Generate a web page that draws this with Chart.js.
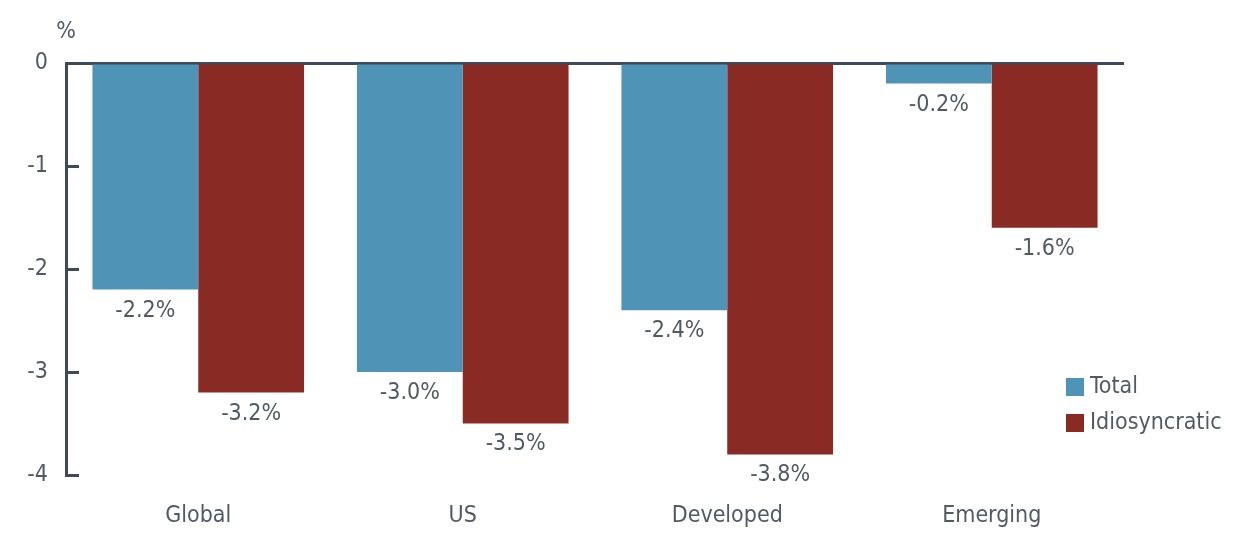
<!DOCTYPE html>
<html>
<head>
<meta charset="utf-8">
<script src="https://cdn.jsdelivr.net/npm/chart.js@4/dist/chart.umd.min.js"></script>
<style>
  html, body { margin: 0; padding: 0; background: #fff; }
  #wrap { width: 1236px; height: 543px; position: relative; }
</style>
</head>
<body>
<div id="wrap"><canvas id="chart"></canvas></div>
<script>
// ─── Data ────────────────────────────────────────────────────────
const categories = ['Global', 'US', 'Developed', 'Emerging'];
const totalVals = [-2.2, -3.0, -2.4, -0.2];
const idioVals  = [-3.2, -3.5, -3.8, -1.6];
const seriesNames = ['Total', 'Idiosyncratic'];
const yTicks = [0, -1, -2, -3, -4];

const BLUE = '#4f93b7';
const RED = '#892a24';
const AXIS = '#3d4a57';
const TEXT = '#505a65';
const FONT = "'Liberation Sans Narrow', 'DejaVu Sans Condensed', 'Open Sans', sans-serif";

// ─── Plugins ─────────────────────────────────────────────────────
const decor = {
  id: 'decor',
  afterDraw(chart) {
    const { ctx, scales: { y }, chartArea } = chart;
    ctx.save();
    // inward tick marks
    ctx.strokeStyle = AXIS;
    ctx.lineWidth = 3;
    yTicks.forEach(v => {
      if (v === 0) return;
      const py = Math.round(y.getPixelForValue(v)) + 0.5;
      ctx.beginPath();
      ctx.moveTo(chartArea.left, py);
      ctx.lineTo(chartArea.left + 13, py);
      ctx.stroke();
    });
    // unit label
    ctx.fillStyle = TEXT;
    ctx.font = `23px ${FONT}`;
    ctx.textAlign = 'center';
    ctx.textBaseline = 'middle';
    ctx.fillText('%', chartArea.left, 32);

    // value labels
    chart.data.datasets.forEach((ds, di) => {
      chart.getDatasetMeta(di).data.forEach((bar, i) => {
        ctx.fillText(ds.data[i].toFixed(1) + '%', bar.x, bar.y + 21);
      });
    });

    // legend
    const lx = 1066, ly = [387, 423];
    chart.data.datasets.forEach((ds, di) => {
      ctx.fillStyle = ds.backgroundColor;
      ctx.fillRect(lx, ly[di] - 9, 18, 18);
      ctx.fillStyle = TEXT;
      ctx.textAlign = 'left';
      ctx.fillText(ds.label, lx + 24, ly[di]);
    });
    ctx.restore();
  }
};

// ─── Chart ───────────────────────────────────────────────────────
new Chart(document.getElementById('chart'), {
  type: 'bar',
  data: {
    labels: categories,
    datasets: [
      { label: seriesNames[0], data: totalVals, backgroundColor: BLUE, borderWidth: 0 },
      { label: seriesNames[1], data: idioVals,  backgroundColor: RED,  borderWidth: 0 }
    ]
  },
  options: {
    responsive: true,
    maintainAspectRatio: false,
    animation: false,
    layout: { padding: { left: 0, right: 112, top: 63, bottom: 0 } },
    plugins: { legend: { display: false }, tooltip: { enabled: false } },
    datasets: { bar: { categoryPercentage: 0.8, barPercentage: 1.0 } },
    scales: {
      x: {
        grid: { display: false, drawTicks: false },
        border: { display: false },
        ticks: { color: TEXT, font: { family: FONT, size: 23 }, padding: 27 },
        afterFit: s => { s.height = 68; }
      },
      y: {
        min: -4, max: 0,
        z: 1,
        afterBuildTicks: s => { s.ticks = yTicks.map(v => ({ value: v })); },
        grid: {
          drawTicks: false,
          lineWidth: 3,
          color: c => (c.tick && c.tick.value === 0 ? AXIS : 'rgba(0,0,0,0)')
        },
        border: { display: true, color: AXIS, width: 3 },
        ticks: { color: TEXT, font: { family: FONT, size: 23 }, padding: 18 },
        afterFit: s => { s.width = 66; }
      }
    }
  },
  plugins: [decor]
});
</script>
</body>
</html>
